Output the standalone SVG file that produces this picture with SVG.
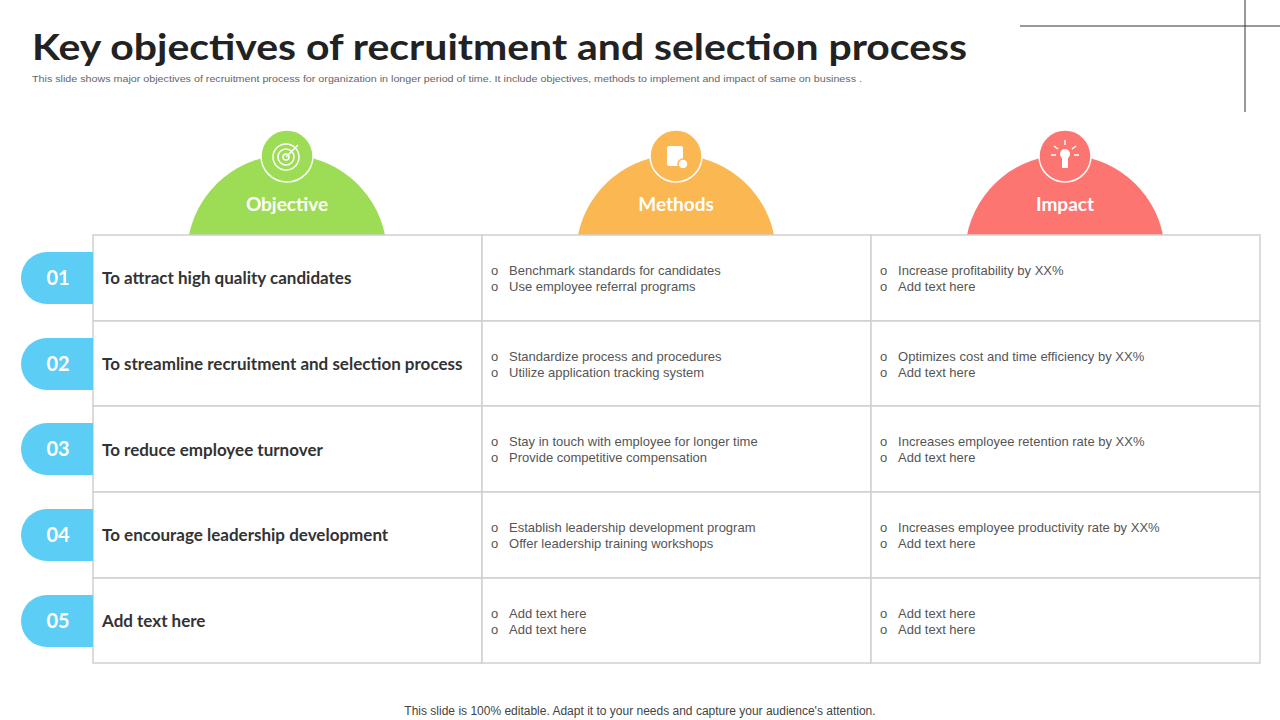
<svg xmlns="http://www.w3.org/2000/svg" width="1280" height="720" viewBox="0 0 1280 720">
<style>
.t{font-family:"Liberation Sans",Arial,sans-serif}
.h{font-family:"Lato","Liberation Sans",sans-serif;font-weight:bold}
.cell{fill:#fff;stroke:#d0d0d0;stroke-width:1.5}
.obj{font-family:"Lato","Liberation Sans",sans-serif;font-weight:bold;font-size:17px;fill:#333}
.b{font-family:"Liberation Sans",Arial,sans-serif;font-size:13px;fill:#555}
.num{font-family:"Lato","Liberation Sans",sans-serif;font-weight:bold;font-size:20px;fill:#fff}
.pill{fill:#5ccdf5}
.hd{font-family:"Lato","Liberation Sans",sans-serif;font-weight:bold;font-size:19px;fill:#fff}
.ic{stroke:#fff;stroke-width:1.5}
</style>
<rect width="1280" height="720" fill="#fff"/>
<line x1="1020" y1="26" x2="1280" y2="26" stroke="#333" stroke-width="1"/>
<line x1="1245" y1="0" x2="1245" y2="112" stroke="#333" stroke-width="1"/>
<text x="32" y="60" class="h" font-size="36" fill="#222" textLength="935" lengthAdjust="spacingAndGlyphs">Key objectives of recruitment and selection process</text>
<text x="32" y="82" class="t" font-size="9.5" fill="#666" textLength="830" lengthAdjust="spacingAndGlyphs">This slide shows major objectives of recruitment process for organization in longer period of time. It include objectives, methods to implement and impact of same on business .</text>

<g id="head-objective">
<path d="M189 235 A100 100 0 0 1 385 235 Z" fill="#9ddd55"/>
<circle cx="287" cy="156" r="26" fill="#9ddd55" class="ic"/>
<g fill="none" stroke="#fff" stroke-width="1.5"><circle cx="286" cy="157" r="13"/><circle cx="286" cy="157" r="8"/><circle cx="286" cy="157" r="3"/><line x1="286" y1="157" x2="298" y2="145"/></g>
<text x="287" y="211" class="hd" text-anchor="middle">Objective</text>
</g>
<g id="head-methods">
<path d="M578 235 A100 100 0 0 1 774 235 Z" fill="#fbb752"/>
<circle cx="676" cy="156" r="26" fill="#fbb752" class="ic"/>
<g fill="#fff"><rect x="667" y="146" width="16" height="20" rx="2"/><circle cx="683" cy="164" r="5" stroke="#fbb752" stroke-width="1.5"/></g>
<text x="676" y="211" class="hd" text-anchor="middle">Methods</text>
</g>
<g id="head-impact">
<path d="M967 235 A100 100 0 0 1 1163 235 Z" fill="#fd7570"/>
<circle cx="1065" cy="156" r="26" fill="#fd7570" class="ic"/>
<g fill="#fff"><circle cx="1065" cy="154" r="5"/><rect x="1062" y="156" width="6" height="12"/><g stroke="#fff" stroke-width="1.5"><line x1="1065" y1="140" x2="1065" y2="145"/><line x1="1054" y1="146" x2="1058" y2="149"/><line x1="1076" y1="146" x2="1072" y2="149"/><line x1="1051" y1="155" x2="1056" y2="155"/><line x1="1079" y1="155" x2="1074" y2="155"/></g></g>
<text x="1065" y="211" class="hd" text-anchor="middle">Impact</text>
</g>

<g id="table">
<rect x="93" y="235" width="389" height="86" class="cell"/><rect x="482" y="235" width="389" height="86" class="cell"/><rect x="871" y="235" width="389" height="86" class="cell"/>
<rect x="93" y="321" width="389" height="85" class="cell"/><rect x="482" y="321" width="389" height="85" class="cell"/><rect x="871" y="321" width="389" height="85" class="cell"/>
<rect x="93" y="406" width="389" height="86" class="cell"/><rect x="482" y="406" width="389" height="86" class="cell"/><rect x="871" y="406" width="389" height="86" class="cell"/>
<rect x="93" y="492" width="389" height="86" class="cell"/><rect x="482" y="492" width="389" height="86" class="cell"/><rect x="871" y="492" width="389" height="86" class="cell"/>
<rect x="93" y="578" width="389" height="85" class="cell"/><rect x="482" y="578" width="389" height="85" class="cell"/><rect x="871" y="578" width="389" height="85" class="cell"/>
</g>

<g id="row1">
<path d="M93 252 H47 A26 26 0 0 0 47 304 H93 Z" class="pill"/><text x="58" y="285" class="num" text-anchor="middle">01</text>
<text x="102" y="284" class="obj">To attract high quality candidates</text>
<text x="491" y="275" class="b">o&#160;&#160;&#160;Benchmark standards for candidates</text><text x="491" y="291" class="b">o&#160;&#160;&#160;Use employee referral programs</text>
<text x="880" y="275" class="b">o&#160;&#160;&#160;Increase profitability by XX%</text><text x="880" y="291" class="b">o&#160;&#160;&#160;Add text here</text>
</g>
<g id="row2">
<path d="M93 338 H47 A26 26 0 0 0 47 390 H93 Z" class="pill"/><text x="58" y="371" class="num" text-anchor="middle">02</text>
<text x="102" y="370" class="obj">To streamline recruitment and selection process</text>
<text x="491" y="361" class="b">o&#160;&#160;&#160;Standardize process and procedures</text><text x="491" y="377" class="b">o&#160;&#160;&#160;Utilize application tracking system</text>
<text x="880" y="361" class="b">o&#160;&#160;&#160;Optimizes cost and time efficiency by XX%</text><text x="880" y="377" class="b">o&#160;&#160;&#160;Add text here</text>
</g>
<g id="row3">
<path d="M93 423 H47 A26 26 0 0 0 47 475 H93 Z" class="pill"/><text x="58" y="456" class="num" text-anchor="middle">03</text>
<text x="102" y="456" class="obj">To reduce employee turnover</text>
<text x="491" y="446" class="b">o&#160;&#160;&#160;Stay in touch with employee for longer time</text><text x="491" y="462" class="b">o&#160;&#160;&#160;Provide competitive compensation</text>
<text x="880" y="446" class="b">o&#160;&#160;&#160;Increases employee retention rate by XX%</text><text x="880" y="462" class="b">o&#160;&#160;&#160;Add text here</text>
</g>
<g id="row4">
<path d="M93 509 H47 A26 26 0 0 0 47 561 H93 Z" class="pill"/><text x="58" y="542" class="num" text-anchor="middle">04</text>
<text x="102" y="541" class="obj">To encourage leadership development</text>
<text x="491" y="532" class="b">o&#160;&#160;&#160;Establish leadership development program</text><text x="491" y="548" class="b">o&#160;&#160;&#160;Offer leadership training workshops</text>
<text x="880" y="532" class="b">o&#160;&#160;&#160;Increases employee productivity rate by XX%</text><text x="880" y="548" class="b">o&#160;&#160;&#160;Add text here</text>
</g>
<g id="row5">
<path d="M93 595 H47 A26 26 0 0 0 47 647 H93 Z" class="pill"/><text x="58" y="628" class="num" text-anchor="middle">05</text>
<text x="102" y="627" class="obj">Add text here</text>
<text x="491" y="618" class="b">o&#160;&#160;&#160;Add text here</text><text x="491" y="634" class="b">o&#160;&#160;&#160;Add text here</text>
<text x="880" y="618" class="b">o&#160;&#160;&#160;Add text here</text><text x="880" y="634" class="b">o&#160;&#160;&#160;Add text here</text>
</g>
<g id="connectors"/>
<text x="640" y="715" class="t" font-size="12" fill="#444" text-anchor="middle">This slide is 100% editable. Adapt it to your needs and capture your audience's attention.</text>
</svg>
